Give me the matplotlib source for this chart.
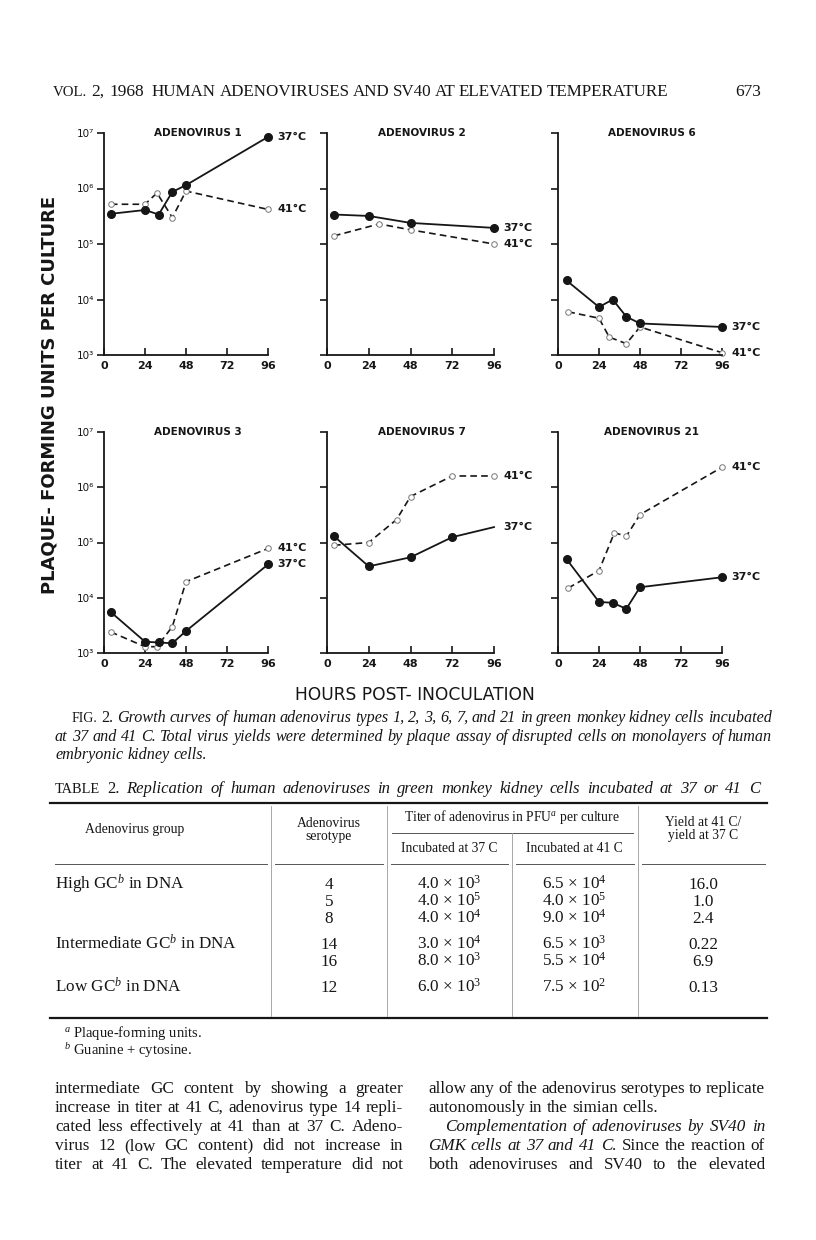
"""
Fig. 2 page: growth curves of human adenoviruses at 37 and 41 C,
plus Table 2 and the running text below it.
"""

import matplotlib.pyplot as plt
from matplotlib.transforms import IdentityTransform

W, H = 816, 1240
INK = "#161616"
SERIF = "Liberation Serif"
SANS = "DejaVu Sans"

plt.rcParams["mathtext.fontset"] = "custom"
plt.rcParams["mathtext.rm"] = SERIF
plt.rcParams["mathtext.it"] = SERIF + ":italic"
plt.rcParams["mathtext.bf"] = SERIF + ":bold"

# ---- growth curves: hours post-inoculation, PFU per culture ----
ad1_t37 = [4, 24, 32, 40, 48, 96]
ad1_v37 = [3.5e5, 4.1e5, 3.4e5, 8.7e5, 1.15e6, 8.5e6]
ad1_t41 = [4, 24, 31, 40, 48, 96]
ad1_v41 = [5.2e5, 5.2e5, 8.3e5, 3.0e5, 9.0e5, 4.2e5]

ad2_t37 = [4, 24, 48, 96]
ad2_v37 = [3.4e5, 3.2e5, 2.4e5, 1.95e5]
ad2_t41 = [4, 30, 48, 96]
ad2_v41 = [1.4e5, 2.3e5, 1.8e5, 1.0e5]

ad6_t37 = [5, 24, 32, 40, 48, 96]
ad6_v37 = [2.2e4, 7.3e3, 1.0e4, 4.9e3, 3.7e3, 3.2e3]
ad6_t41 = [6, 24, 30, 40, 48, 96]
ad6_v41 = [6.0e3, 4.6e3, 2.1e3, 1.6e3, 3.2e3, 1.1e3]

ad3_t37 = [4, 24, 32, 40, 48, 96]
ad3_v37 = [5.5e3, 1.6e3, 1.55e3, 1.5e3, 2.5e3, 4.0e4]
ad3_t41 = [4, 24, 31, 40, 48, 96]
ad3_v41 = [2.4e3, 1.3e3, 1.3e3, 3.0e3, 1.95e4, 7.8e4]

ad7_t37 = [4, 24, 48, 72, 96]
ad7_v37 = [1.3e5, 3.7e4, 5.4e4, 1.25e5, 1.9e5]
ad7_t41 = [4, 24, 40, 48, 72, 96]
ad7_v41 = [8.9e4, 1.0e5, 2.6e5, 6.8e5, 1.6e6, 1.6e6]

ad21_t37 = [5, 24, 32, 40, 48, 96]
ad21_v37 = [5.0e4, 8.4e3, 8.1e3, 6.3e3, 1.55e4, 2.35e4]
ad21_t41 = [6, 24, 33, 40, 48, 96]
ad21_v41 = [1.5e4, 3.1e4, 1.5e5, 1.3e5, 3.2e5, 2.3e6]

panel_titles = ["ADENOVIRUS 1", "ADENOVIRUS 2", "ADENOVIRUS 6",
                "ADENOVIRUS 3", "ADENOVIRUS 7", "ADENOVIRUS 21"]
x_ticks = [0, 24, 48, 72, 96]
y_ticks = [1e3, 1e4, 1e5, 1e6, 1e7]
y_tick_labels = ["10³", "10⁴", "10⁵", "10⁶", "10⁷"]

# ---- table 2 ----
groups = ["High GC$^{b}$ in DNA", "Intermediate GC$^{b}$ in DNA", "Low GC$^{b}$ in DNA"]
group_rows = [0, 3, 5]
serotypes = ["4", "5", "8", "14", "16", "12"]
titer37 = [(4.0, 3), (4.0, 5), (4.0, 4), (3.0, 4), (8.0, 3), (6.0, 3)]
titer41 = [(6.5, 4), (4.0, 5), (9.0, 4), (6.5, 3), (5.5, 4), (7.5, 2)]
yield_ratio = ["16.0", "1.0", "2.4", "0.22", "6.9", "0.13"]

caption = [
    [("FIG. 2.", "normal"), ("Growth curves of human adenovirus types 1, 2, 3, 6, 7, and 21 in "
                             "green monkey kidney cells incubated", "italic")],
    [("at 37 and 41 C. Total virus yields were determined by plaque assay of disrupted "
      "cells on monolayers of human", "italic")],
    [("embryonic kidney cells.", "italic")],
]
left_col = [
    [("intermediate GC content by showing a greater", "normal")],
    [("increase in titer at 41 C, adenovirus type 14 repli-", "normal")],
    [("cated less effectively at 41 than at 37 C. Adeno-", "normal")],
    [("virus 12 (low GC content) did not increase in", "normal")],
    [("titer at 41 C. The elevated temperature did not", "normal")],
]
right_col = [
    [("allow any of the adenovirus serotypes to replicate", "normal")],
    [("autonomously in the simian cells.", "normal")],
    [("Complementation of adenoviruses by SV40 in", "italic")],
    [("GMK cells at 37 and 41 C.", "italic"), ("Since the reaction of", "normal")],
    [("both adenoviruses and SV40 to the elevated", "normal")],
]


fig = plt.figure(figsize=(W / 100, H / 100), dpi=100)
fig.patch.set_facecolor("white")
R = fig.canvas.get_renderer()


def px_axes(x0, y0, x1, y1):
    return fig.add_axes([x0 / W, 1 - y1 / H, (x1 - x0) / W, (y1 - y0) / H])


def line_text(segs, x0, y, x1=None, size=12.0, family=SERIF):
    """place words on a baseline at page pixel y; justify to x1 if given"""
    words = []
    for txt, st in segs:
        for w in txt.split():
            words.append((w, st))
    while True:
        items = []
        for w, st in words:
            s = size * 0.86 if w in ("FIG.", "TABLE", "VOL.") else size
            t = fig.text(0, 0, w, transform=IdentityTransform(), fontsize=s,
                         family=family, style=st, color=INK, va="baseline", ha="left")
            items.append((t, t.get_window_extent(R).width))
        total = sum(wd for _, wd in items)
        if x1 is not None and len(items) > 1:
            gap = (x1 - x0 - total) / (len(items) - 1)
        else:
            gap = size * 0.25 * 100 / 72
        if gap >= 3.0:
            break
        # too long for the measure: shrink a little and set again
        for t, _ in items:
            t.remove()
        size *= 0.98
    x = x0
    for t, wd in items:
        t.set_position((x, H - y))
        x += wd + gap


# ---- the six panels ----
cols = [(104, 268), (327, 494), (558, 722)]
rows = [(133, 355), (432, 653)]
panel_data = [
    (ad1_t37, ad1_v37, ad1_t41, ad1_v41),
    (ad2_t37, ad2_v37, ad2_t41, ad2_v41),
    (ad6_t37, ad6_v37, ad6_t41, ad6_v41),
    (ad3_t37, ad3_v37, ad3_t41, ad3_v41),
    (ad7_t37, ad7_v37, ad7_t41, ad7_v41),
    (ad21_t37, ad21_v37, ad21_t41, ad21_v41),
]

for i, (t37, v37, t41, v41) in enumerate(panel_data):
    r, c = divmod(i, 3)
    ax = px_axes(cols[c][0], rows[r][0], cols[c][1], rows[r][1])
    ax.set_yscale("log")
    ax.set_xlim(0, 96)
    ax.set_ylim(1e3, 1e7)
    ax.patch.set_alpha(0)
    for s in ("top", "right"):
        ax.spines[s].set_visible(False)
    for s in ("left", "bottom"):
        ax.spines[s].set_linewidth(1.3)
        ax.spines[s].set_color(INK)
    ax.set_xticks(x_ticks)
    ax.set_xticklabels([str(v) for v in x_ticks], fontsize=8, fontweight="bold",
                       family=SANS, color=INK)
    ax.set_yticks(y_ticks)
    ax.yaxis.set_minor_locator(plt.NullLocator())
    if c == 0:
        ax.set_yticklabels(y_tick_labels, fontsize=7.5, family=SANS, color=INK)
    else:
        ax.set_yticklabels([])
    ax.tick_params(axis="x", direction="in", length=5, width=1.2, pad=4, color=INK)
    ax.tick_params(axis="y", direction="out", length=5, width=1.2, pad=2, color=INK)

    ax.plot(t41, v41, ls=(0, (4, 2.5)), lw=1.2, color=INK, marker="o", ms=4,
            mfc="white", mec="#777777", mew=0.7, clip_on=False, zorder=2)
    mk = [0, 1, 2, 3] if i == 4 else None
    ax.plot(t37, v37, ls="-", lw=1.3, color=INK, marker="o", ms=5.5,
            mfc=INK, mec=INK, markevery=mk, clip_on=False, zorder=3)

    ax.annotate("37°C", (t37[-1], v37[-1]), xytext=(7, 0), textcoords="offset points",
                va="center", ha="left", fontsize=8, fontweight="bold", family=SANS,
                color=INK, annotation_clip=False)
    ax.annotate("41°C", (t41[-1], v41[-1]), xytext=(7, 0), textcoords="offset points",
                va="center", ha="left", fontsize=8, fontweight="bold", family=SANS,
                color=INK, annotation_clip=False)
    ax.text(0.57, 1.0, panel_titles[i], transform=ax.transAxes, ha="center", va="center",
            fontsize=7.5, fontweight="bold", family=SANS, color=INK)

fig.text(50 / W, 1 - 395 / H, "PLAQUE- FORMING UNITS PER CULTURE", rotation=90,
         ha="center", va="center", fontsize=13, fontweight="bold", family=SANS, color=INK)
fig.text(415 / W, 1 - 695 / H, "HOURS POST- INOCULATION", ha="center", va="center",
         fontsize=12.3, family=SANS, color=INK)

# ---- running head ----
line_text([("VOL. 2, 1968", "normal")], 53, 96, size=12.5)
line_text([("HUMAN ADENOVIRUSES AND SV40 AT ELEVATED TEMPERATURE", "normal")],
          152, 96, 668, size=12.5)
line_text([("673", "normal")], 735, 96, size=12.5)

# ---- caption ----
line_text(caption[0], 72, 722, 772, size=11.6)
line_text(caption[1], 55, 741, 772, size=11.6)
line_text(caption[2], 55, 759, size=11.6)

# ---- table 2 ----
line_text([("TABLE 2.", "normal"), ("Replication of human adenoviruses in green monkey "
                                    "kidney cells incubated at 37 or 41 C", "italic")],
          55, 793, 760, size=12)

vx = [271, 387, 512, 638]
fig.add_artist(plt.Line2D([50 / W, 767 / W], [1 - 803 / H] * 2, lw=1.6, color=INK))
fig.add_artist(plt.Line2D([50 / W, 767 / W], [1 - 1018 / H] * 2, lw=1.6, color=INK))
fig.add_artist(plt.Line2D([392 / W, 633 / W], [1 - 833 / H] * 2, lw=0.7, color="#555555"))
seg_edges = [55, 267, 275, 383, 391, 508, 516, 634, 642, 765]
for a, b in zip(seg_edges[0::2], seg_edges[1::2]):
    fig.add_artist(plt.Line2D([a / W, b / W], [1 - 864 / H] * 2, lw=0.7, color="#555555"))
for j, x in enumerate(vx):
    top = 833 if j == 2 else 806
    fig.add_artist(plt.Line2D([x / W] * 2, [1 - top / H, 1 - 1016 / H], lw=0.6,
                              color="#9a9a9a"))

hdr = dict(ha="center", va="baseline", fontsize=9.8, family=SERIF, color=INK)
fig.text(135 / W, 1 - 833 / H, "Adenovirus group", **hdr)
fig.text(329 / W, 1 - 827 / H, "Adenovirus", **hdr)
fig.text(329 / W, 1 - 840 / H, "serotype", **hdr)
fig.text(512 / W, 1 - 821 / H, "Titer of adenovirus in PFU$^{a}$ per culture", **hdr)
fig.text(449 / W, 1 - 852 / H, "Incubated at 37 C", **hdr)
fig.text(574 / W, 1 - 852 / H, "Incubated at 41 C", **hdr)
fig.text(703 / W, 1 - 826 / H, "Yield at 41 C/", **hdr)
fig.text(703 / W, 1 - 839 / H, "yield at 37 C", **hdr)

row_y = [889, 906, 923, 949, 966, 992]
body = dict(va="baseline", fontsize=12.3, family=SERIF, color=INK)
for g, k in zip(groups, group_rows):
    fig.text(55 / W, 1 - row_y[k] / H, g, ha="left", **body)
for k in range(len(serotypes)):
    y = 1 - row_y[k] / H
    fig.text(329 / W, y, serotypes[k], ha="center", **body)
    m, e = titer37[k]
    fig.text(449 / W, y, f"{m:.1f} $\\times$ 10$^{{{e}}}$", ha="center", **body)
    m, e = titer41[k]
    fig.text(574 / W, y, f"{m:.1f} $\\times$ 10$^{{{e}}}$", ha="center", **body)
    fig.text(703 / W, y, yield_ratio[k], ha="center", **body)

fig.text(64 / W, 1 - 1037 / H, "$^{a}$ Plaque-forming units.", ha="left",
         va="baseline", fontsize=10.5, family=SERIF, color=INK)
fig.text(64 / W, 1 - 1055 / H, "$^{b}$ Guanine + cytosine.", ha="left",
         va="baseline", fontsize=10.5, family=SERIF, color=INK)

# ---- running text, two columns ----
y0 = 1093
for k, segs in enumerate(left_col):
    line_text(segs, 55, y0 + 19 * k, 403, size=12.3)
for k, segs in enumerate(right_col):
    if k == 1:
        line_text(segs, 428, y0 + 19 * k, size=12.3)
    elif k == 2:
        line_text(segs, 445, y0 + 19 * k, 765, size=12.3)
    else:
        line_text(segs, 428, y0 + 19 * k, 765, size=12.3)

fig.savefig("out.png", dpi=100, facecolor="white")
